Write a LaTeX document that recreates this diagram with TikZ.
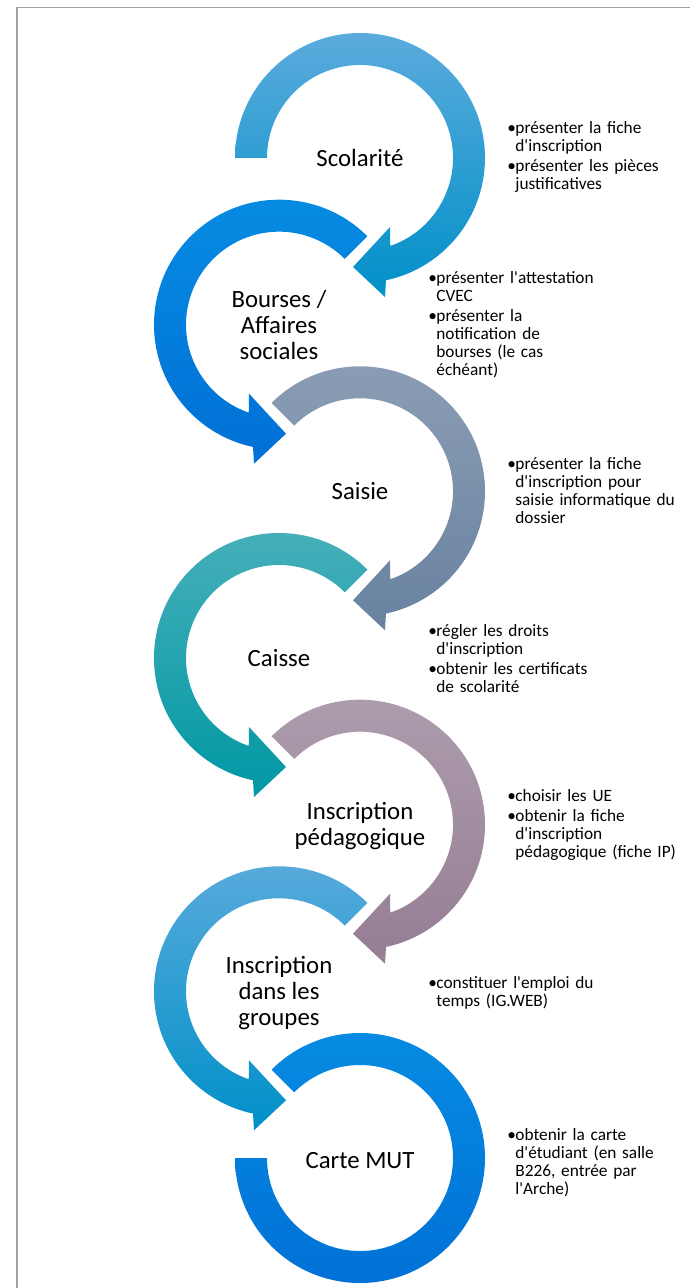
\documentclass[tikz,border=0pt]{standalone}
\usepackage{fontspec}
\setmainfont{Carlito}[Ligatures=TeXOff]

\definecolor{scolTop}{HTML}{5BABDC}
\definecolor{scolBot}{HTML}{0090C8}
\definecolor{boursTop}{HTML}{078CE2}
\definecolor{boursBot}{HTML}{0070D6}
\definecolor{saisTop}{HTML}{8C9EB4}
\definecolor{saisBot}{HTML}{6882A0}
\definecolor{caisTop}{HTML}{48B0BA}
\definecolor{caisBot}{HTML}{0098A4}
\definecolor{pedaTop}{HTML}{AE9EAE}
\definecolor{pedaBot}{HTML}{957D93}
\definecolor{frameGray}{HTML}{A0A0A0}

% one bullet of a note, hanging under the bullet
\newcommand{\itm}[1]{\hangindent=4pt\hangafter=1\noindent\makebox[4pt][l]{\textbullet}#1\par}

\tikzset{
  ringarrow/.style={insert path={(#1:125) arc[start angle=#1, end angle=-78, radius=125]
      -- (25,-139) -- (-7,-109) -- (30,-69)
      -- (-71:93) arc[start angle=-71, end angle=#1, radius=93] -- cycle}},
  ringend/.style={insert path={(#1:125) arc[start angle=#1, end angle=-180, radius=125]
      -- (-180:93) arc[start angle=-180, end angle=#1, radius=93] -- cycle}},
  stage/.style={align=center, inner sep=0pt, font=\fontsize{12.4}{13}\selectfont},
  notes/.style={anchor=west, inner sep=0pt, text width=100pt,
      font=\fontsize{8.65}{9}\selectfont\raggedright\setlength{\parskip}{1pt}},
}

\begin{document}
\begin{tikzpicture}[x=0.5pt, y=0.5pt]
	\useasboundingbox (0,0) rectangle (690,-1288);
	\draw[frameGray, line width=0.75pt] (17,-1288) -- (17,-7.5) -- (690,-7.5);

	% arrows, right column then left column
	\begin{scope}[shift={(360,-158)}]
		\shade[top color=scolTop, bottom color=scolBot] [ringarrow=180];
	\end{scope}
	\begin{scope}[shift={(279,-324.7)}, xscale=-1]
		\shade[top color=boursTop, bottom color=boursBot] [ringarrow=135];
	\end{scope}
	\begin{scope}[shift={(360,-491.3)}]
		\shade[top color=saisTop, bottom color=saisBot] [ringarrow=135];
	\end{scope}
	\begin{scope}[shift={(279,-658)}, xscale=-1]
		\shade[top color=caisTop, bottom color=caisBot] [ringarrow=135];
	\end{scope}
	\begin{scope}[shift={(360,-824.7)}]
		\shade[top color=pedaTop, bottom color=pedaBot] [ringarrow=135];
	\end{scope}
	\begin{scope}[shift={(279,-991.3)}, xscale=-1]
		\shade[top color=scolTop, bottom color=scolBot] [ringarrow=135];
	\end{scope}
	\begin{scope}[shift={(360,-1158)}]
		\shade[top color=boursTop, bottom color=boursBot] [ringend=135];
	\end{scope}

	% stage names
	\node[stage] (scol) at (360,-158) {Scolarité};
	\node[stage] (bours) at (279,-324.7) {Bourses /\\Affaires\\sociales};
	\node[stage] (sais) at (360,-491.3) {Saisie};
	\node[stage] (cais) at (279,-658) {Caisse};
	\node[stage] (peda) at (360,-825.7) {Inscription\\pédagogique};
	\node[stage] (grp) at (279,-993) {Inscription\\dans les\\groupes};
	\node[stage] (mut) at (360,-1161) {Carte MUT};

	% notes
	\node[notes] (scol-notes) at (507,-157) {\itm{présenter la fiche\newline d'inscription}\itm{présenter les pièces\newline justificatives}};
	\node[notes] (bours-notes) at (428,-325) {\itm{présenter l'attestation\newline CVEC}\itm{présenter la\newline notification de\newline bourses (le cas\newline échéant)}};
	\node[notes] (sais-notes) at (507,-491) {\itm{présenter la fiche\newline d'inscription pour\newline saisie informatique du\newline dossier}};
	\node[notes] (cais-notes) at (428,-659) {\itm{régler les droits\newline d'inscription}\itm{obtenir les certificats\newline de scolarité}};
	\node[notes] (peda-notes) at (507,-825) {\itm{choisir les UE}\itm{obtenir la fiche\newline d'inscription\newline pédagogique (fiche IP)}};
	\node[notes] (grp-notes) at (428,-993) {\itm{constituer l'emploi du\newline temps (IG.WEB)}};
	\node[notes] (mut-notes) at (507,-1163) {\itm{obtenir la carte\newline d'étudiant (en salle\newline B226, entrée par\newline l'Arche)}};
\end{tikzpicture}
\end{document}
